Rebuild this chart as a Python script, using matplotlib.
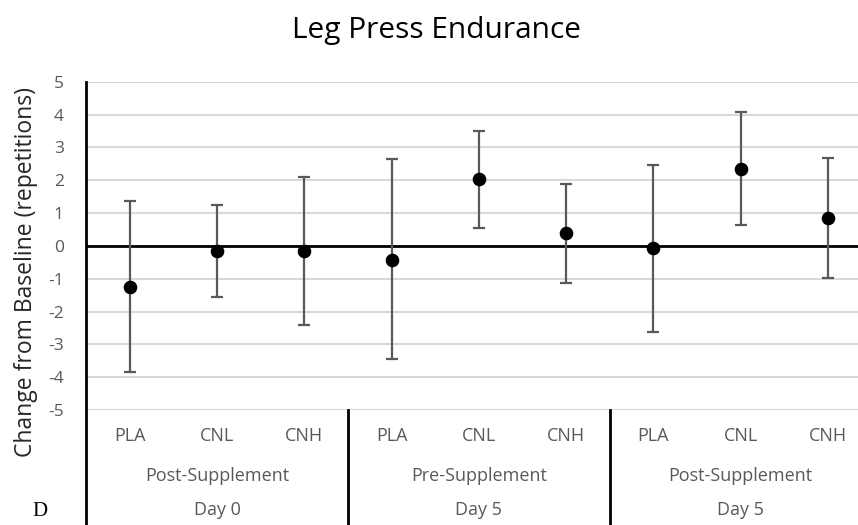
import matplotlib
matplotlib.use("Agg")
import matplotlib.pyplot as plt
import numpy as np

categories = ["PLA", "CNL", "CNH", "PLA", "CNL", "CNH", "PLA", "CNL", "CNH"]
group_phase = ["Post-Supplement", "Pre-Supplement", "Post-Supplement"]
group_day = ["Day 0", "Day 5", "Day 5"]
means = [-1.25, -0.15, -0.15, -0.42, 2.04, 0.38, -0.08, 2.34, 0.84]
upper = [1.36, 1.24, 2.11, 2.64, 3.51, 1.89, 2.46, 4.07, 2.67]
lower = [-3.85, -1.56, -2.42, -3.44, 0.54, -1.13, -2.61, 0.64, -0.98]
yticks = [5, 4, 3, 2, 1, 0, -1, -2, -3, -4, -5]

plt.rcParams['font.family'] = ['Open Sans', 'DejaVu Sans']

W, H = 858, 525
fig = plt.figure(figsize=(W / 100, H / 100), dpi=100)
left_px, right_px, top_px, bot_px = 86, 871.7, 81.7, 410
ax = fig.add_axes([left_px / W, 1 - bot_px / H, (right_px - left_px) / W, (bot_px - top_px) / H])

n = len(categories)
x = np.arange(n)
means_a = np.array(means)
yerr = np.vstack([means_a - np.array(lower), np.array(upper) - means_a])

ax.set_xlim(-0.5, n - 0.5)
ax.set_ylim(-5, 5)
ax.set_yticks(yticks)
ax.set_yticklabels([str(t) for t in yticks])
ax.yaxis.grid(True, color='#d9d9d9', linewidth=1.5)
ax.set_axisbelow(True)
ax.axhline(0, color='black', linewidth=2, zorder=2)
ax.set_xticks([])
for s in ['top', 'right', 'bottom', 'left']:
    ax.spines[s].set_visible(False)
ax.tick_params(axis='y', length=0, pad=16, labelsize=12.5, labelcolor='#595959')

ax.errorbar(x, means, yerr=yerr, fmt='none', ecolor='#595959', elinewidth=1.6,
            capsize=4.3, capthick=1.6, zorder=3)
ax.plot(x, means, 'o', color='black', markersize=8.8, zorder=4)

# axis lines extending below the plot (table-like category axis)
ah = bot_px - top_px
def yfrac(py):
    return (bot_px - py) / ah

trans = ax.get_xaxis_transform()
ax.plot([-0.5, -0.5], [1.0, yfrac(525)], color='black', lw=2, transform=trans, clip_on=False)
for b in [2.5, 5.5]:
    ax.plot([b, b], [0, yfrac(525)], color='black', lw=2, transform=trans, clip_on=False)

for i, c in enumerate(categories):
    ax.text(i, yfrac(436), c, transform=trans, ha='center', va='center',
            fontsize=13, color='#595959')
for g in range(3):
    ax.text(3 * g + 1, yfrac(476), group_phase[g], transform=trans, ha='center', va='center',
            fontsize=13, color='#595959')
    ax.text(3 * g + 1, yfrac(510), group_day[g], transform=trans, ha='center', va='center',
            fontsize=13, color='#595959')

fig.text(436.5 / W, 1 - 38 / H, "Leg Press Endurance", ha='center', va='baseline',
         fontsize=21.5, color='black')
fig.text(26 / W, 1 - 272 / H, "Change from Baseline (repetitions)", ha='center', va='center',
         rotation=90, fontsize=16.5, color='#262626')
fig.text(40 / W, 1 - 511 / H, "D", ha='center', va='center', fontsize=15,
         family=['Liberation Serif', 'DejaVu Serif'], color='black')

fig.savefig("out.png", dpi=100)
